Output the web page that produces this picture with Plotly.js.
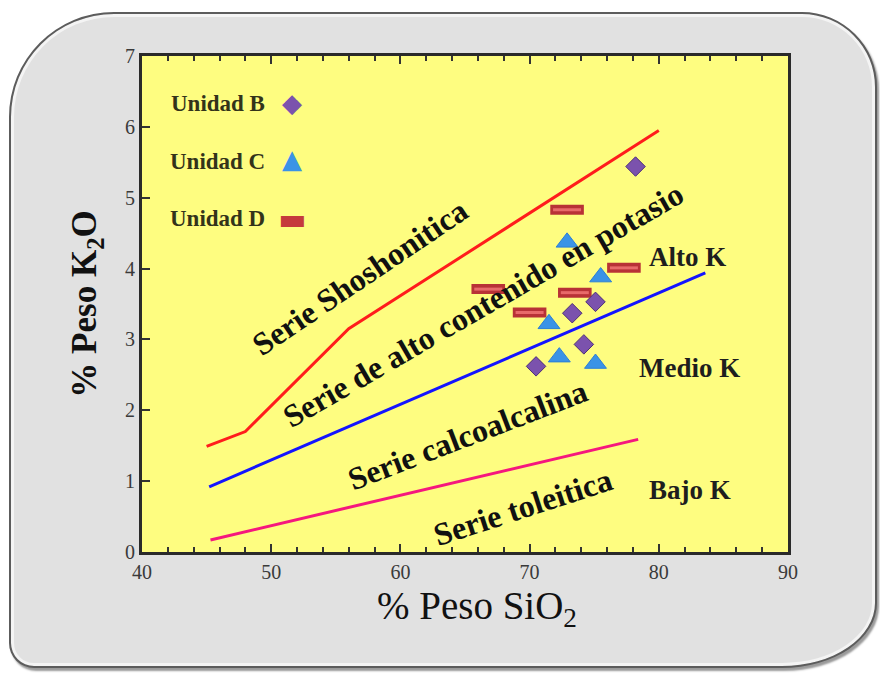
<!DOCTYPE html>
<html>
<head>
<meta charset="utf-8">
<script src="https://cdn.plot.ly/plotly-3.0.1.min.js"></script>
<style>
  html, body { margin: 0; padding: 0; background: #ffffff; }
  #wrap { position: relative; width: 880px; height: 681px; overflow: hidden; background: #ffffff; }
  #frame {
    position: absolute; left: 9px; top: 12px; width: 864px; height: 652px;
    background: #e1e1e1;
    border: 2px solid #5c5c5c;
    border-radius: 105px 75px 95px 25px / 105px 75px 65px 25px;
    box-shadow: inset 0 0 0 3px #f4f4f4, 2px 3px 2px #9a9a9a;
  }
  #chart { position: absolute; left: 0; top: 0; width: 880px; height: 681px; }
</style>
</head>
<body>
<div id="wrap">
  <div id="frame"></div>
  <div id="chart"></div>
</div>
<script>
// ---- data ----
const unidadB_x = [78.2, 75.1, 73.3, 74.2, 70.5];
const unidadB_y = [5.44, 3.53, 3.37, 2.93, 2.62];

const unidadC_x = [72.9, 75.5, 71.5, 72.3, 75.1];
const unidadC_y = [4.37, 3.88, 3.22, 2.75, 2.66];

const unidadD_x = [72.9, 77.3, 66.8, 73.5, 70.0];
const unidadD_y = [4.83, 4.01, 3.71, 3.66, 3.38];

// boundary lines
const shoshonitic_x = [45, 48, 56, 80];
const shoshonitic_y = [1.49, 1.70, 3.15, 5.95];

const highK_x = [45.2, 83.6];
const highK_y = [0.92, 3.94];

const lowK_x = [45.3, 78.4];
const lowK_y = [0.17, 1.59];

const xTicks = [40, 50, 60, 70, 80, 90];
const yTicks = [0, 1, 2, 3, 4, 5, 6, 7];

const serieLabels = ["Serie Shoshonitica", "Serie de alto contenido en potasio", "Serie calcoalcalina", "Serie toleitica"];
const serieLabelX = [56.9, 66.4, 65.2, 69.5];
const serieLabelY = [3.88, 3.49, 1.65, 0.635];
const serieLabelAngle = [-34, -30, -21, -18];

const kLabels = ["Alto K", "Medio K", "Bajo K"];
const kLabelX = [82.2, 82.4, 82.4];
const kLabelY = [4.16, 2.60, 0.875];

const legendNames = ["Unidad B", "Unidad C", "Unidad D"];
const legendSymbols = ["\u25C6", "\u25B2", "\u25AC"];
const legendColors = ["#7b52ad", "#3a93e6", "#c53a3c"];

// ---- traces ----
const SERIF = "Liberation Serif, Times New Roman, serif";

const traces = [
  { x: shoshonitic_x, y: shoshonitic_y, mode: "lines", line: { color: "#ff1c1c", width: 3 }, hoverinfo: "skip" },
  { x: highK_x, y: highK_y, mode: "lines", line: { color: "#1414ff", width: 3 }, hoverinfo: "skip" },
  { x: lowK_x, y: lowK_y, mode: "lines", line: { color: "#f5177e", width: 3 }, hoverinfo: "skip" },
  { x: unidadD_x, y: unidadD_y, mode: "markers", name: legendNames[2],
    marker: { symbol: "line-ew", size: 24, color: "#b83236", line: { color: "#b83236", width: 10 } } },
  { x: unidadD_x, y: unidadD_y, mode: "markers", hoverinfo: "skip",
    marker: { symbol: "line-ew", size: 20, color: "#e86a6a", line: { color: "#e86a6a", width: 3 } } },
  { x: unidadC_x, y: unidadC_y, mode: "markers", name: legendNames[1],
    marker: { symbol: "triangle-up", size: 19, color: "#3a93e6", line: { color: "#2c7fd6", width: 1 } } },
  { x: unidadB_x, y: unidadB_y, mode: "markers", name: legendNames[0],
    marker: { symbol: "diamond", size: 15, color: "#7b52ad", line: { color: "#4d2e78", width: 1 } } }
];

const annotations = [];
serieLabels.forEach((t, i) => annotations.push({
  x: serieLabelX[i], y: serieLabelY[i], xref: "x", yref: "y", text: "<b>" + t + "</b>",
  showarrow: false, textangle: serieLabelAngle[i], xanchor: "center", yanchor: "middle",
  font: { family: SERIF, size: 32, color: "#111111" }
}));
kLabels.forEach((t, i) => annotations.push({
  x: kLabelX[i], y: kLabelY[i], xref: "x", yref: "y", text: "<b>" + t + "</b>",
  showarrow: false, xanchor: "center", yanchor: "middle",
  font: { family: SERIF, size: 27, color: "#1e1e1e" }
}));
const legY = [0.905, 0.788, 0.673];
legendNames.forEach((t, i) => {
  annotations.push({
    x: 0.1935, y: legY[i], xref: "paper", yref: "paper", xanchor: "right", yanchor: "middle",
    text: "<b>" + t + "</b>",
    showarrow: false, font: { family: SERIF, size: 23, color: "#33331a" }
  });
  annotations.push({
    x: 0.232, y: legY[i] + (i === 1 ? 0.004 : 0), xref: "paper", yref: "paper", xanchor: "center", yanchor: "middle",
    text: legendSymbols[i],
    showarrow: false, font: { family: "DejaVu Sans", size: i === 2 ? 30 : 26, color: legendColors[i] }
  });
});
// x-axis title placed as annotation (slightly right of center, as in the reference)
annotations.push({
  x: 0.519, y: -0.114, xref: "paper", yref: "paper", xanchor: "center", yanchor: "middle",
  text: "% Peso SiO<sub>2</sub>", showarrow: false,
  font: { family: SERIF, size: 39, color: "#111111" }
});

const layout = {
  width: 880, height: 681,
  margin: { l: 142, r: 92, t: 56, b: 129 },
  paper_bgcolor: "rgba(0,0,0,0)",
  plot_bgcolor: "#fefd80",
  showlegend: false,
  font: { family: SERIF, color: "#333333" },
  xaxis: {
    range: [40, 90], tickvals: xTicks, ticktext: xTicks.map(String),
    ticks: "inside", ticklen: 8, tickwidth: 2, tickcolor: "#333333",
    minor: { dtick: 2, ticks: "inside", ticklen: 5, tickwidth: 2, tickcolor: "#333333" },
    showline: true, linecolor: "#2a2a2a", linewidth: 3, mirror: "ticks",
    showgrid: false, zeroline: false,
    tickfont: { family: SERIF, size: 20, color: "#3a3a3a" }
  },
  yaxis: {
    range: [0, 7], tickvals: yTicks, ticktext: yTicks.map(String),
    ticks: "inside", ticklen: 8, tickwidth: 2, tickcolor: "#333333",
    showline: true, linecolor: "#2a2a2a", linewidth: 3, mirror: true,
    showgrid: false, zeroline: false,
    tickfont: { family: SERIF, size: 20, color: "#3a3a3a" },
    title: { text: "<b>% Peso K<sub>2</sub>O</b>", font: { family: SERIF, size: 35, color: "#111111" }, standoff: 18 }
  },
  annotations: annotations
};

Plotly.newPlot("chart", traces, layout, { staticPlot: true, displayModeBar: false });
</script>
</body>
</html>
